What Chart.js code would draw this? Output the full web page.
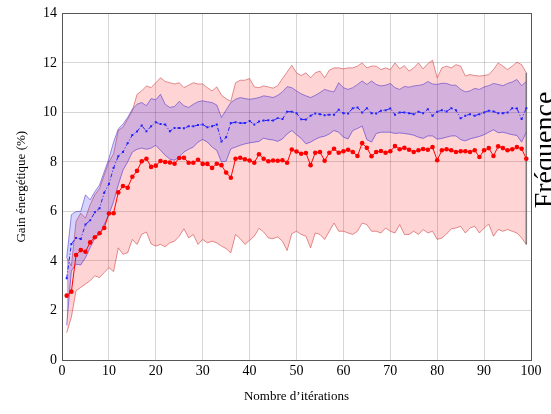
<!DOCTYPE html>
<html>
<head>
<meta charset="utf-8">
<script src="https://cdn.jsdelivr.net/npm/chart.js@4.4.0/dist/chart.umd.min.js"></script>
<style>
html,body{margin:0;padding:0;background:#fff;}
#wrap{width:551px;height:414px;position:relative;}
</style>
</head>
<body>
<div id="wrap"><canvas id="c" width="551" height="414"></canvas></div>
<script>
const iterations = [1,2,3,4,5,6,7,8,9,10,11,12,13,14,15,16,17,18,19,20,21,22,23,24,25,26,27,28,29,30,31,32,33,34,35,36,37,38,39,40,41,42,43,44,45,46,47,48,49,50,51,52,53,54,55,56,57,58,59,60,61,62,63,64,65,66,67,68,69,70,71,72,73,74,75,76,77,78,79,80,81,82,83,84,85,86,87,88,89,90,91,92,93,94,95,96,97,98,99];

const redMean = [2.6,2.76,4.24,4.44,4.37,4.75,4.96,5.12,5.33,5.92,5.93,6.77,7.03,6.96,7.4,7.64,8.03,8.13,7.8,7.85,8.04,8.0,7.98,7.93,8.16,8.17,7.97,7.97,8.09,7.92,7.92,7.76,7.93,7.87,7.57,7.36,8.13,8.17,8.11,8.06,7.97,8.31,8.13,8.03,8.06,8.05,8.07,7.97,8.5,8.42,8.33,8.36,7.87,8.37,8.4,8.05,8.37,8.53,8.37,8.43,8.49,8.4,8.24,8.76,8.57,8.23,8.4,8.44,8.37,8.43,8.64,8.51,8.57,8.49,8.4,8.47,8.52,8.49,8.6,8.07,8.47,8.51,8.47,8.4,8.43,8.43,8.4,8.47,8.2,8.47,8.56,8.24,8.63,8.56,8.47,8.51,8.6,8.53,8.13];

const redUpper = [4.13,3.8,5.6,5.93,5.73,6.27,6.67,6.93,7.47,8.0,8.33,9.27,9.4,9.73,10.07,10.73,10.87,11.07,11.0,11.2,11.4,11.25,11.2,11.15,11.2,11.0,11.1,11.2,11.15,11.15,11.0,10.87,11.03,10.7,10.55,10.45,11.2,11.3,11.3,11.37,11.03,11.0,11.07,11.03,10.98,11.08,11.37,11.63,11.9,11.6,11.49,11.6,11.4,11.6,11.67,11.4,11.71,11.8,11.8,11.76,11.8,11.8,11.87,12.0,11.8,11.87,11.87,11.73,11.8,11.73,12.0,11.76,11.89,11.67,11.8,12.0,11.76,11.97,12.11,11.4,11.8,11.87,11.8,11.93,11.87,11.47,11.53,11.49,11.47,11.49,11.53,11.73,12.0,11.87,11.73,11.87,12.03,11.93,11.6];

const redLower = [1.1,1.73,2.8,2.93,3.07,3.2,3.4,3.33,3.53,3.73,3.57,4.53,4.27,4.33,4.87,4.67,5.07,5.17,4.69,4.6,4.67,4.57,4.73,4.8,5.0,5.3,4.93,5.07,4.67,4.87,4.73,4.8,4.73,4.6,4.5,4.33,5.07,4.9,4.67,4.83,5.0,5.32,5.17,4.93,4.9,4.97,4.8,4.42,5.1,5.2,5.07,5.0,4.53,5.13,5.07,4.87,5.2,5.53,5.2,5.2,5.13,5.07,5.2,5.53,5.47,5.2,5.2,5.13,5.33,5.2,5.13,5.47,5.07,5.07,5.2,5.07,5.27,5.13,5.2,4.87,4.93,5.09,5.3,5.33,5.4,5.13,5.33,5.4,5.13,5.33,5.49,5.0,5.27,5.2,5.27,5.2,5.13,4.93,4.67];

const blueMean = [3.3,4.69,4.93,4.89,5.47,5.64,5.97,6.13,6.76,7.11,7.76,8.23,8.4,8.76,9.09,9.23,9.47,9.24,9.44,9.6,9.53,9.51,9.24,9.37,9.37,9.36,9.44,9.44,9.49,9.51,9.4,9.44,9.51,8.83,9.0,9.57,9.6,9.57,9.57,9.65,9.51,9.63,9.67,9.68,9.67,9.77,9.73,10.03,10.03,9.97,9.72,9.71,9.87,9.96,9.93,9.89,9.91,9.91,10.11,9.97,9.96,10.17,10.2,10.0,10.17,9.97,9.96,10.07,10.09,10.16,9.91,10.0,10.0,9.97,9.93,10.03,9.97,10.13,9.87,10.03,10.09,10.04,10.17,10.09,9.76,9.87,9.93,9.87,9.93,10.0,10.07,10.04,9.97,9.97,10.0,10.17,10.16,9.73,10.17];

const blueUpper = [4.13,5.87,6.0,6.0,6.67,6.47,6.8,7.07,7.6,8.13,8.8,9.33,9.53,9.8,10.13,10.33,10.4,10.27,10.56,10.51,10.73,10.33,10.2,10.24,10.45,10.27,10.2,10.33,10.43,10.47,10.43,10.4,10.3,9.8,10.1,10.4,10.53,10.6,10.56,10.53,10.56,10.6,10.67,10.64,10.6,10.69,10.83,11.04,11.0,10.87,10.75,10.67,10.6,10.69,10.8,10.93,10.87,10.83,11.2,11.0,10.93,11.0,11.13,11.27,11.13,11.27,11.13,11.07,11.1,11.17,11.0,10.93,11.05,11.02,11.07,11.09,11.13,11.25,11.15,11.13,11.18,11.17,11.1,11.1,10.93,10.83,10.87,10.97,10.93,11.03,11.08,11.17,11.13,11.08,11.17,11.23,11.33,11.08,11.25];

const blueLower = [1.4,3.6,3.87,3.84,4.13,4.53,4.93,5.07,5.47,5.87,6.4,7.07,7.67,8.0,8.4,8.51,8.56,8.51,8.56,8.67,8.47,8.27,8.11,8.07,8.2,8.4,8.51,8.6,8.8,8.91,8.8,8.6,8.47,8.0,8.03,8.53,8.6,8.67,8.73,8.77,8.8,8.83,8.96,8.91,8.89,8.83,8.93,9.13,9.27,9.1,8.95,8.73,8.8,8.91,9.0,9.04,9.13,9.27,9.2,9.0,8.93,9.27,9.35,9.45,8.9,8.8,9.15,9.2,9.2,9.2,9.15,9.17,9.15,9.12,9.08,9.0,8.95,9.05,9.05,8.92,8.95,9.0,9.05,9.05,8.9,8.85,8.93,8.98,9.03,9.1,9.2,9.3,9.18,9.2,9.15,9.1,9.07,8.8,9.2];

const xTicks = [0,10,20,30,40,50,60,70,80,90,100];
const yTicks = [0,2,4,6,8,10,12,14];
const xTitle = 'Nombre d\u2019itérations';
const yTitle = 'Gain énergétique (%)';
const sideLabel = 'Fréquence';

const pts = (ys) => iterations.map((x, i) => ({x: x, y: ys[i]}));
const last = iterations.length - 1;

const SERIF = "'Liberation Serif', 'DejaVu Serif', serif";

const boxPlugin = {
  id: 'box',
  afterDraw(chart) {
    const {ctx, chartArea: a} = chart;
    ctx.save();
    ctx.strokeStyle = '#555';
    ctx.lineWidth = 1;
    ctx.strokeRect(Math.round(a.left) + 0.5, Math.round(a.top) + 0.5, Math.round(a.right - a.left), Math.round(a.bottom - a.top));
    ctx.fillStyle = '#000';
    ctx.font = "28px " + SERIF;
    ctx.translate(553, 150);
    ctx.rotate(-Math.PI / 2);
    ctx.textAlign = 'center';
    ctx.textBaseline = 'alphabetic';
    ctx.fillText(sideLabel, 0, 0);
    ctx.restore();
  }
};

const bandLine = (c) => ({pointRadius: 0, borderWidth: 1, tension: 0, borderColor: c});

new Chart(document.getElementById('c'), {
  type: 'line',
  data: {
    datasets: [
      Object.assign({label: 'redUpper', data: pts(redUpper), fill: '+1', backgroundColor: 'rgba(255,0,0,0.17)', order: 5}, bandLine('rgba(200,60,60,0.55)')),
      Object.assign({label: 'redLower', data: pts(redLower), fill: false, order: 5}, bandLine('rgba(200,60,60,0.55)')),
      Object.assign({label: 'blueUpper', data: pts(blueUpper), fill: '+1', backgroundColor: 'rgba(0,0,255,0.17)', order: 4}, bandLine('rgba(90,60,200,0.6)')),
      Object.assign({label: 'blueLower', data: pts(blueLower), fill: false, order: 4}, bandLine('rgba(90,60,200,0.6)')),
      {label: 'end', data: [{x: iterations[last], y: redLower[last]}, {x: iterations[last], y: redUpper[last]}], borderColor: 'rgba(90,90,90,0.8)', borderWidth: 1.5, pointRadius: 0, fill: false, order: 3},
      {label: 'blueMean', data: pts(blueMean), borderColor: '#2020ff', borderWidth: 1, borderDash: [4, 2, 1, 2], pointStyle: 'rect', pointRadius: 1.4, pointBackgroundColor: '#2020ff', pointBorderColor: '#2020ff', pointBorderWidth: 0, fill: false, tension: 0, order: 2},
      {label: 'redMean', data: pts(redMean), borderColor: '#ff0000', borderWidth: 1, pointStyle: 'circle', pointRadius: 2.3, pointBackgroundColor: '#ff0000', pointBorderColor: '#ff0000', pointBorderWidth: 0, fill: false, tension: 0, order: 1}
    ]
  },
  options: {
    responsive: false,
    animation: false,
    events: [],
    layout: {padding: {top: 10, right: 20, left: 0, bottom: 0}},
    plugins: {legend: {display: false}, tooltip: {enabled: false}},
    scales: {
      x: {
        type: 'linear', min: 0, max: 100,
        afterBuildTicks: (s) => { s.ticks = xTicks.map(v => ({value: v})); },
        afterFit: (s) => { s.height = 54; },
        ticks: {color: '#000', font: {family: SERIF, size: 14}, padding: 3, maxRotation: 0, autoSkip: false},
        grid: {color: 'rgba(0,0,0,0.16)', drawTicks: false},
        border: {display: true, color: '#555'},
        title: {display: true, text: xTitle, color: '#000', font: {family: SERIF, size: 13}, padding: {top: 0, bottom: 10}}
      },
      y: {
        type: 'linear', min: 0, max: 14,
        afterBuildTicks: (s) => { s.ticks = yTicks.map(v => ({value: v})); },
        afterFit: (s) => { s.width = 62; },
        ticks: {color: '#000', font: {family: SERIF, size: 14}, padding: 5, autoSkip: false},
        grid: {color: 'rgba(0,0,0,0.16)', drawTicks: false},
        border: {display: true, color: '#555'},
        title: {display: true, text: yTitle, color: '#000', font: {family: SERIF, size: 13}, padding: {top: 14, bottom: 0}}
      }
    }
  },
  plugins: [boxPlugin]
});
</script>
</body>
</html>
